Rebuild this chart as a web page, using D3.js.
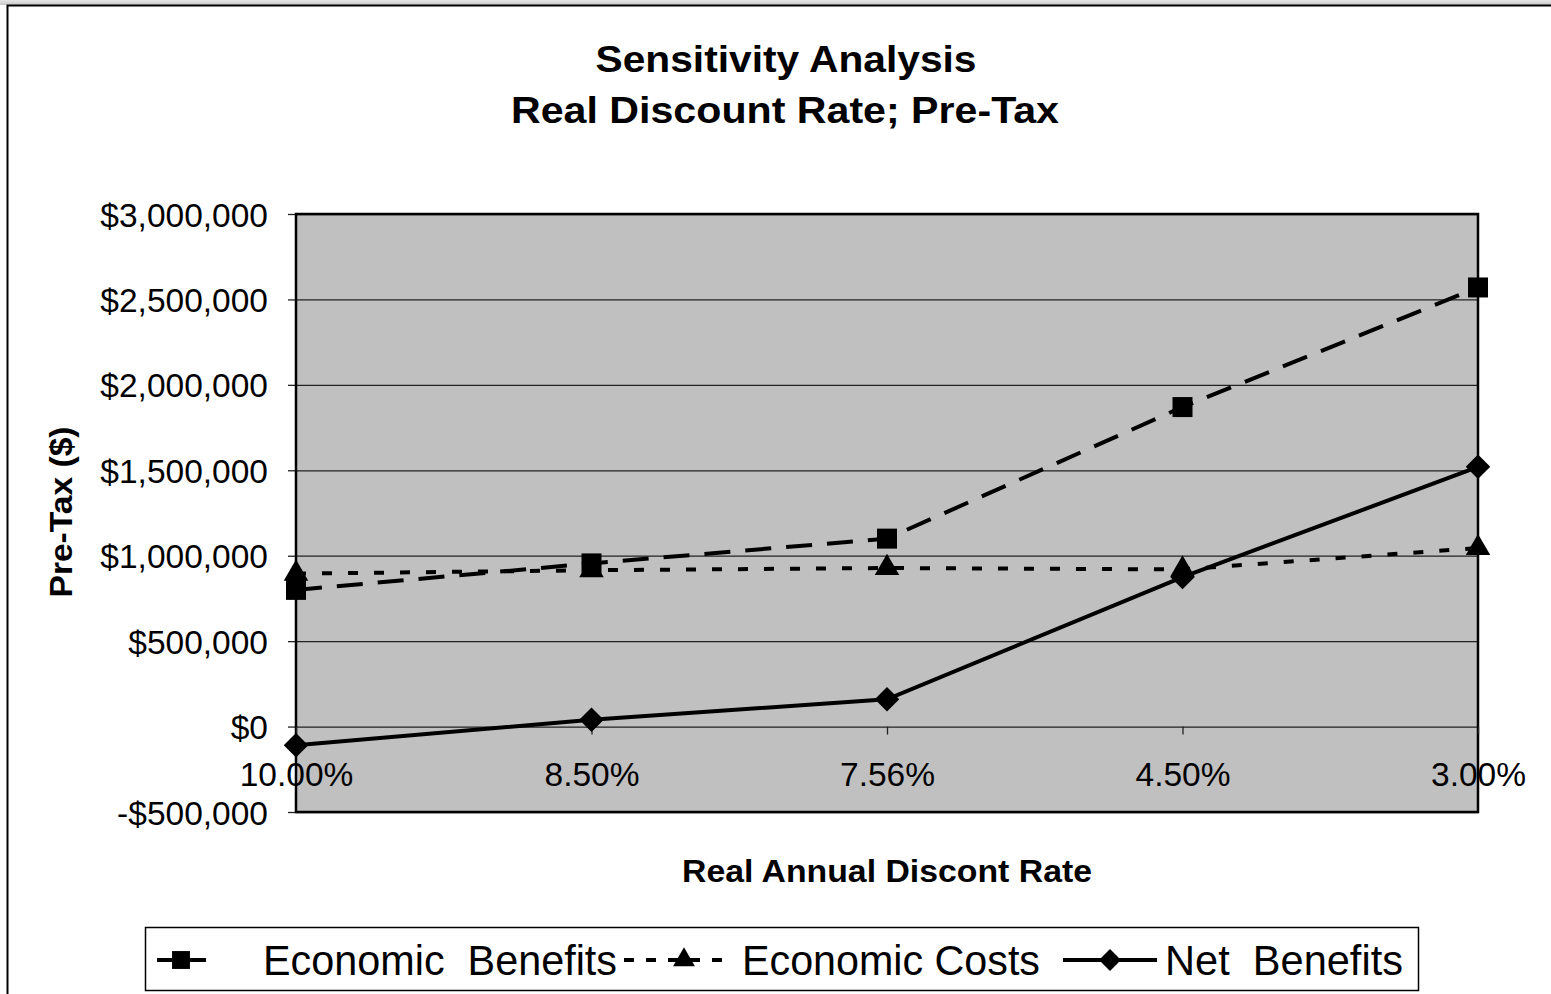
<!DOCTYPE html>
<html>
<head>
<meta charset="utf-8">
<script src="https://cdn.jsdelivr.net/npm/d3@7"></script>
<style>
  body { margin: 0; background: #fff; }
  svg { display: block; font-family: "Liberation Sans", Arial, sans-serif; }
</style>
</head>
<body>
<div id="chart"></div>
<script>
// data
const RATES = ["10.00%", "8.50%", "7.56%", "4.50%", "3.00%"];
const BENEFITS = [800000, 955000, 1100000, 1870000, 2570000];
const COSTS = [895000, 915000, 928000, 920000, 1045000];
const NET = [-110000, 40000, 160000, 875000, 1520000];
const SERIES_NAMES = ["Economic  Benefits", "Economic Costs", "Net  Benefits"];
const Y_TICKS = [-500000, 0, 500000, 1000000, 1500000, 2000000, 2500000, 3000000];

const WIDTH = 1551;
const HEIGHT = 994;
const PLOT = { LEFT: 296, RIGHT: 1478, TOP: 214, BOTTOM: 812 };

const SVG = d3.select("#chart").append("svg")
  .attr("width", WIDTH)
  .attr("height", HEIGHT);

// outer frame
const defs = SVG.append("defs");
const grad = defs.append("linearGradient").attr("id", "topfade")
  .attr("x1", 0).attr("y1", 0).attr("x2", 0).attr("y2", 1);
grad.append("stop").attr("offset", "0%").attr("stop-color", "#e6e6e6");
grad.append("stop").attr("offset", "100%").attr("stop-color", "#c8c8c8");
SVG.append("rect").attr("x", 0).attr("y", 0).attr("width", WIDTH).attr("height", 5)
  .attr("fill", "url(#topfade)");
SVG.append("rect")
  .attr("x", 7.5).attr("y", 5.5)
  .attr("width", WIDTH + 10).attr("height", HEIGHT + 10)
  .attr("fill", "#fff").attr("stroke", "#000").attr("stroke-width", 2);

const x = d3.scalePoint().domain(RATES).range([PLOT.LEFT, PLOT.RIGHT]).padding(0);
const y = d3.scaleLinear().domain([-500000, 3000000]).range([PLOT.BOTTOM, PLOT.TOP]);

// plot background
SVG.append("rect")
  .attr("x", PLOT.LEFT).attr("y", PLOT.TOP)
  .attr("width", PLOT.RIGHT - PLOT.LEFT).attr("height", PLOT.BOTTOM - PLOT.TOP)
  .attr("fill", "#c0c0c0");

// gridlines
SVG.append("g").selectAll("line")
  .data(Y_TICKS)
  .enter().append("line")
  .attr("x1", PLOT.LEFT).attr("x2", PLOT.RIGHT)
  .attr("y1", (d) => y(d) + 0.5).attr("y2", (d) => y(d) + 0.5)
  .attr("stroke", "#222").attr("stroke-width", 1.3);

const money = (d) => (d < 0 ? "-" : "") + "$" + d3.format(",")(Math.abs(d));

const Y_AXIS = d3.axisLeft(y).tickValues(Y_TICKS).tickFormat(money)
  .tickSize(8).tickSizeOuter(0).tickPadding(20);
const yAxisG = SVG.append("g").attr("transform", "translate(" + PLOT.LEFT + ",0)").call(Y_AXIS);
yAxisG.select(".domain").remove();
yAxisG.selectAll(".tick line").attr("stroke", "#222").attr("stroke-width", 1.3);
yAxisG.selectAll("text").style("font-size", "33.5px").attr("fill", "#000").attr("dy", "0.36em");

// x axis sits on the $0 line
const X_AXIS = d3.axisBottom(x).tickSize(8).tickSizeOuter(0).tickPadding(28);
const xAxisG = SVG.append("g").attr("transform", "translate(0," + y(0) + ")").call(X_AXIS);
xAxisG.select(".domain").remove();
xAxisG.selectAll(".tick line").attr("stroke", "#222").attr("stroke-width", 1.3);

// plot border
SVG.append("rect")
  .attr("x", PLOT.LEFT).attr("y", PLOT.TOP)
  .attr("width", PLOT.RIGHT - PLOT.LEFT).attr("height", PLOT.BOTTOM - PLOT.TOP)
  .attr("fill", "none").attr("stroke", "#000").attr("stroke-width", 2.5);

xAxisG.raise();
xAxisG.selectAll("text").style("font-size", "33.5px").attr("fill", "#000");

// series
const line = d3.line().x((d, i) => x(RATES[i])).y((d) => y(d));
const SERIES = [
  { values: BENEFITS, dash: "26,15", marker: d3.symbolSquare, size: 400, rot: 0 },
  { values: COSTS, dash: "10,16", marker: d3.symbolTriangle, size: 260, rot: 0 },
  { values: NET, dash: null, marker: d3.symbolSquare, size: 300, rot: 45 }
];

SERIES.forEach((s) => {
  SVG.append("path")
    .datum(s.values)
    .attr("d", line)
    .attr("fill", "none")
    .attr("stroke", "#000")
    .attr("stroke-width", 4)
    .attr("stroke-dasharray", s.dash);
});
SERIES.forEach((s) => {
  SVG.append("g").selectAll("path")
    .data(s.values)
    .enter().append("path")
    .attr("transform", (d, i) => "translate(" + x(RATES[i]) + "," + y(d) + ") rotate(" + s.rot + ")")
    .attr("d", d3.symbol().type(s.marker).size(s.size))
    .attr("fill", "#000");
});

// titles
const TITLE = SVG.append("text")
  .attr("text-anchor", "middle")
  .style("font-weight", "bold")
  .style("font-size", "36px");
TITLE.append("tspan").attr("x", 786).attr("y", 72).attr("textLength", 381)
  .attr("lengthAdjust", "spacingAndGlyphs").text("Sensitivity Analysis");
TITLE.append("tspan").attr("x", 785).attr("y", 123).attr("textLength", 548)
  .attr("lengthAdjust", "spacingAndGlyphs").text("Real Discount Rate; Pre-Tax");

SVG.append("text")
  .attr("x", 887).attr("y", 882)
  .attr("text-anchor", "middle")
  .style("font-weight", "bold").style("font-size", "31px")
  .attr("textLength", 410).attr("lengthAdjust", "spacingAndGlyphs")
  .text("Real Annual Discont Rate");

SVG.append("text")
  .attr("transform", "translate(72,512) rotate(-90)")
  .attr("text-anchor", "middle")
  .style("font-weight", "bold").style("font-size", "31px")
  .attr("textLength", 171).attr("lengthAdjust", "spacingAndGlyphs")
  .text("Pre-Tax ($)");

// legend
const LEGEND_LAYOUT = [
  { x0: 157, x1: 206, mark: 181, tx: 263, tw: 354 },
  { x0: 624, x1: 732, mark: 684, tx: 742, tw: 298 },
  { x0: 1063, x1: 1157, mark: 1110, tx: 1165, tw: 238 }
];
const LEGEND = SVG.append("g").attr("id", "legend");
LEGEND.append("rect")
  .attr("x", 145.5).attr("y", 927.5).attr("width", 1273).attr("height", 63)
  .attr("fill", "#fff").attr("stroke", "#000").attr("stroke-width", 1.5);

const LY = 960;
SERIES_NAMES.forEach((name, i) => {
  const L = LEGEND_LAYOUT[i];
  const s = SERIES[i];
  LEGEND.append("line")
    .attr("x1", L.x0).attr("x2", L.x1).attr("y1", LY).attr("y2", LY)
    .attr("stroke", "#000").attr("stroke-width", 4)
    .attr("stroke-dasharray", i === 1 ? "10,12" : null);
  LEGEND.append("path")
    .attr("transform", "translate(" + L.mark + "," + LY + ") rotate(" + s.rot + ")")
    .attr("d", d3.symbol().type(s.marker).size(s.size * 0.8))
    .attr("fill", "#000");
  LEGEND.append("text")
    .attr("x", L.tx).attr("y", LY + 15)
    .style("font-size", "42px")
    .style("white-space", "pre")
    .attr("textLength", L.tw).attr("lengthAdjust", "spacingAndGlyphs")
    .text(name);
});
</script>
</body>
</html>
